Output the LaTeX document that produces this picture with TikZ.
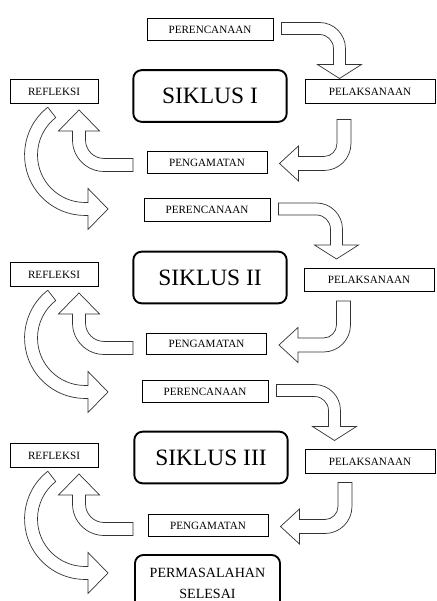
\documentclass[tikz,border=0pt]{standalone}
\usepackage{fontspec}
\setmainfont{Liberation Serif}
\begin{document}
\begin{tikzpicture}[x=0.03cm, y=-0.03cm]
    \tikzstyle{box}=[draw, line width=0.8pt, inner sep=0pt, font=\fontsize{9.5}{10}\selectfont]
    \tikzstyle{plan}=[box, minimum width=3.78cm, minimum height=0.68cm]
    \tikzstyle{pelak}=[box, minimum width=3.9cm, minimum height=0.7cm]
    \tikzstyle{amat}=[box, minimum width=3.6cm, minimum height=0.65cm]
    \tikzstyle{refl}=[box, minimum width=2.64cm, minimum height=0.72cm]
    \tikzstyle{siklus}=[draw, line width=1.6pt, rounded corners=0.25cm, inner sep=0pt, minimum width=4.6cm, minimum height=1.55cm, font=\fontsize{20}{24}\selectfont]
    \tikzstyle{barrow}=[draw=black!80, line width=0.6pt, fill=white]

    \useasboundingbox (0,0) rectangle (436,601);
    \clip (0,0) rectangle (436,601);

    % siklus I
    \node[plan] (plan1) at (210,29.5) {PERENCANAAN};
    \node[siklus] (sik1) at (210,96) {SIKLUS I};
    \node[refl] (refl1) at (54,91.5) {REFLEKSI};
    \node[pelak] (pelak1) at (370,91.5) {PELAKSANAAN};
    \node[amat] (amat1) at (207,162.5) {PENGAMATAN};

    % siklus II
    \node[plan] (plan2) at (207,210) {PERENCANAAN};
    \node[siklus] (sik2) at (210,277.5) {SIKLUS II};
    \node[refl] (refl2) at (54,274.5) {REFLEKSI};
    \node[pelak] (pelak2) at (369,280) {PELAKSANAAN};
    \node[amat] (amat2) at (206.5,344) {PENGAMATAN};

    % siklus III
    \node[plan] (plan3) at (205,391.5) {PERENCANAAN};
    \node[siklus] (sik3) at (211,457.5) {SIKLUS III};
    \node[refl] (refl3) at (54,455.5) {REFLEKSI};
    \node[pelak] (pelak3) at (370,461.5) {PELAKSANAAN};
    \node[amat] (amat3) at (208,525.5) {PENGAMATAN};

    \node[siklus, align=center, font=\fontsize{12}{18}\selectfont, minimum width=4.35cm, minimum height=1.71cm] (selesai) at (207.5,583.5) {PERMASALAHAN\\SELESAI};

    % block arrows
    \foreach \i in {1,2,3} {
      \begin{scope}[shift={(plan\i.east)}]
        \draw[barrow] (8,-7) -- (46,-7) arc[start angle=-90, end angle=0, radius=26]
          -- (72,35) -- (88,35) -- (66,49) -- (44,35) -- (60,35) -- (60,19)
          arc[start angle=0, end angle=-90, radius=14] -- (8,5) -- cycle;
      \end{scope}
      \begin{scope}[shift={(amat\i.east)}]
        \draw[barrow] (69.5,-43) -- (83.5,-43) -- (83.5,-19) arc[start angle=0, end angle=90, radius=27]
          -- (31,8) -- (31,18.5) -- (12,1) -- (31,-16.5) -- (31,-6) -- (56.5,-6)
          arc[start angle=90, end angle=0, radius=13] -- cycle;
      \end{scope}
      \begin{scope}[shift={(refl\i.south)}]
        \draw[barrow] (25,6) -- (45.5,27) -- (31.5,27) -- (31.5,36) arc[start angle=180, end angle=90, radius=18.5]
          -- (79,54.5) -- (79,67.5) -- (50,67.5) arc[start angle=90, end angle=180, radius=31.5]
          -- (18.5,27) -- (4.5,27) -- cycle;
        \draw[barrow] (-6.2,3.3) arc[start angle=232, end angle=90, radius=60.5]
          -- (34,111.5) -- (34,125.5) -- (54,105) -- (34,84.5) -- (34,98.5) -- (31,98.5)
          arc[start angle=90, end angle=232, radius=47.5] -- cycle;
      \end{scope}
    }
\end{tikzpicture}
\end{document}
